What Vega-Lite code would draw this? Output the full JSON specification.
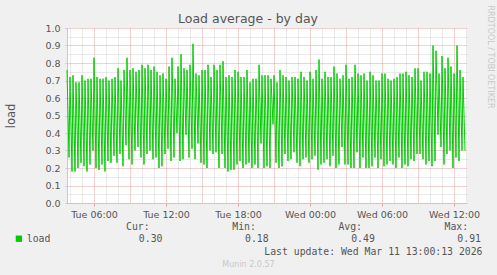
{
"$schema": "https://vega.github.io/schema/vega-lite/v6.json",
"width": 400, "height": 175,
"autosize": {"type": "none"},
"padding": {"left": 67, "top": 28, "right": 30, "bottom": 72},
"background": "#f0f0f0",
"config": {"view": {"fill": "#ffffff", "stroke": null}, "font": "DejaVu Sans"},
"title": {"text": "Load average - by day", "anchor": "middle", "frame": "group", "dx": -19, "dy": 20, "offset": 0, "fontSize": 12.5, "fontWeight": "normal", "color": "#555555", "font": "DejaVu Sans"},
"data": {"values": [
{"t":"2026-03-10T03:45Z","v":0.76},{"t":"2026-03-10T03:55Z","v":0.26},
{"t":"2026-03-10T04:00Z","v":0.72},{"t":"2026-03-10T04:10Z","v":0.18},
{"t":"2026-03-10T04:15Z","v":0.73},{"t":"2026-03-10T04:25Z","v":0.18},
{"t":"2026-03-10T04:30Z","v":0.69},{"t":"2026-03-10T04:40Z","v":0.20},
{"t":"2026-03-10T04:45Z","v":0.69},{"t":"2026-03-10T04:55Z","v":0.23},
{"t":"2026-03-10T05:00Z","v":0.73},{"t":"2026-03-10T05:10Z","v":0.21},
{"t":"2026-03-10T05:15Z","v":0.70},{"t":"2026-03-10T05:25Z","v":0.18},
{"t":"2026-03-10T05:30Z","v":0.71},{"t":"2026-03-10T05:40Z","v":0.22},
{"t":"2026-03-10T05:45Z","v":0.71},{"t":"2026-03-10T05:55Z","v":0.30},
{"t":"2026-03-10T06:00Z","v":0.83},{"t":"2026-03-10T06:10Z","v":0.20},
{"t":"2026-03-10T06:15Z","v":0.72},{"t":"2026-03-10T06:25Z","v":0.19},
{"t":"2026-03-10T06:30Z","v":0.71},{"t":"2026-03-10T06:40Z","v":0.22},
{"t":"2026-03-10T06:45Z","v":0.71},{"t":"2026-03-10T06:55Z","v":0.18},
{"t":"2026-03-10T07:00Z","v":0.72},{"t":"2026-03-10T07:10Z","v":0.24},
{"t":"2026-03-10T07:15Z","v":0.70},{"t":"2026-03-10T07:25Z","v":0.23},
{"t":"2026-03-10T07:30Z","v":0.71},{"t":"2026-03-10T07:40Z","v":0.27},
{"t":"2026-03-10T07:45Z","v":0.72},{"t":"2026-03-10T07:55Z","v":0.23},
{"t":"2026-03-10T08:00Z","v":0.77},{"t":"2026-03-10T08:10Z","v":0.28},
{"t":"2026-03-10T08:15Z","v":0.70},{"t":"2026-03-10T08:25Z","v":0.21},
{"t":"2026-03-10T08:30Z","v":0.76},{"t":"2026-03-10T08:40Z","v":0.33},
{"t":"2026-03-10T08:45Z","v":0.83},{"t":"2026-03-10T08:55Z","v":0.25},
{"t":"2026-03-10T09:00Z","v":0.76},{"t":"2026-03-10T09:10Z","v":0.22},
{"t":"2026-03-10T09:15Z","v":0.77},{"t":"2026-03-10T09:25Z","v":0.30},
{"t":"2026-03-10T09:30Z","v":0.75},{"t":"2026-03-10T09:40Z","v":0.32},
{"t":"2026-03-10T09:45Z","v":0.76},{"t":"2026-03-10T09:55Z","v":0.26},
{"t":"2026-03-10T10:00Z","v":0.79},{"t":"2026-03-10T10:10Z","v":0.22},
{"t":"2026-03-10T10:15Z","v":0.77},{"t":"2026-03-10T10:25Z","v":0.28},
{"t":"2026-03-10T10:30Z","v":0.79},{"t":"2026-03-10T10:40Z","v":0.30},
{"t":"2026-03-10T10:45Z","v":0.76},{"t":"2026-03-10T10:55Z","v":0.25},
{"t":"2026-03-10T11:00Z","v":0.78},{"t":"2026-03-10T11:10Z","v":0.26},
{"t":"2026-03-10T11:15Z","v":0.75},{"t":"2026-03-10T11:25Z","v":0.20},
{"t":"2026-03-10T11:30Z","v":0.73},{"t":"2026-03-10T11:40Z","v":0.21},
{"t":"2026-03-10T11:45Z","v":0.74},{"t":"2026-03-10T11:55Z","v":0.28},
{"t":"2026-03-10T12:00Z","v":0.71},{"t":"2026-03-10T12:10Z","v":0.31},
{"t":"2026-03-10T12:15Z","v":0.78},{"t":"2026-03-10T12:25Z","v":0.24},
{"t":"2026-03-10T12:30Z","v":0.83},{"t":"2026-03-10T12:40Z","v":0.26},
{"t":"2026-03-10T12:45Z","v":0.71},{"t":"2026-03-10T12:55Z","v":0.40},
{"t":"2026-03-10T13:00Z","v":0.78},{"t":"2026-03-10T13:10Z","v":0.24},
{"t":"2026-03-10T13:15Z","v":0.85},{"t":"2026-03-10T13:25Z","v":0.25},
{"t":"2026-03-10T13:30Z","v":0.77},{"t":"2026-03-10T13:40Z","v":0.39},
{"t":"2026-03-10T13:45Z","v":0.76},{"t":"2026-03-10T13:55Z","v":0.26},
{"t":"2026-03-10T14:00Z","v":0.79},{"t":"2026-03-10T14:10Z","v":0.31},
{"t":"2026-03-10T14:15Z","v":0.91},{"t":"2026-03-10T14:25Z","v":0.25},
{"t":"2026-03-10T14:30Z","v":0.74},{"t":"2026-03-10T14:40Z","v":0.34},
{"t":"2026-03-10T14:45Z","v":0.73},{"t":"2026-03-10T14:55Z","v":0.23},
{"t":"2026-03-10T15:00Z","v":0.76},{"t":"2026-03-10T15:10Z","v":0.22},
{"t":"2026-03-10T15:15Z","v":0.76},{"t":"2026-03-10T15:25Z","v":0.20},
{"t":"2026-03-10T15:30Z","v":0.79},{"t":"2026-03-10T15:40Z","v":0.30},
{"t":"2026-03-10T15:45Z","v":0.72},{"t":"2026-03-10T15:55Z","v":0.28},
{"t":"2026-03-10T16:00Z","v":0.79},{"t":"2026-03-10T16:10Z","v":0.29},
{"t":"2026-03-10T16:15Z","v":0.76},{"t":"2026-03-10T16:25Z","v":0.20},
{"t":"2026-03-10T16:30Z","v":0.79},{"t":"2026-03-10T16:40Z","v":0.28},
{"t":"2026-03-10T16:45Z","v":0.81},{"t":"2026-03-10T16:55Z","v":0.20},
{"t":"2026-03-10T17:00Z","v":0.72},{"t":"2026-03-10T17:10Z","v":0.18},
{"t":"2026-03-10T17:15Z","v":0.73},{"t":"2026-03-10T17:25Z","v":0.19},
{"t":"2026-03-10T17:30Z","v":0.72},{"t":"2026-03-10T17:40Z","v":0.19},
{"t":"2026-03-10T17:45Z","v":0.76},{"t":"2026-03-10T17:55Z","v":0.22},
{"t":"2026-03-10T18:00Z","v":0.75},{"t":"2026-03-10T18:10Z","v":0.24},
{"t":"2026-03-10T18:15Z","v":0.72},{"t":"2026-03-10T18:25Z","v":0.20},
{"t":"2026-03-10T18:30Z","v":0.72},{"t":"2026-03-10T18:40Z","v":0.22},
{"t":"2026-03-10T18:45Z","v":0.76},{"t":"2026-03-10T18:55Z","v":0.23},
{"t":"2026-03-10T19:00Z","v":0.69},{"t":"2026-03-10T19:10Z","v":0.20},
{"t":"2026-03-10T19:15Z","v":0.71},{"t":"2026-03-10T19:25Z","v":0.22},
{"t":"2026-03-10T19:30Z","v":0.71},{"t":"2026-03-10T19:40Z","v":0.20},
{"t":"2026-03-10T19:45Z","v":0.79},{"t":"2026-03-10T19:55Z","v":0.34},
{"t":"2026-03-10T20:00Z","v":0.73},{"t":"2026-03-10T20:10Z","v":0.20},
{"t":"2026-03-10T20:15Z","v":0.73},{"t":"2026-03-10T20:25Z","v":0.21},
{"t":"2026-03-10T20:30Z","v":0.73},{"t":"2026-03-10T20:40Z","v":0.20},
{"t":"2026-03-10T20:45Z","v":0.71},{"t":"2026-03-10T20:55Z","v":0.45},
{"t":"2026-03-10T21:00Z","v":0.73},{"t":"2026-03-10T21:10Z","v":0.23},
{"t":"2026-03-10T21:15Z","v":0.69},{"t":"2026-03-10T21:25Z","v":0.20},
{"t":"2026-03-10T21:30Z","v":0.76},{"t":"2026-03-10T21:40Z","v":0.21},
{"t":"2026-03-10T21:45Z","v":0.73},{"t":"2026-03-10T21:55Z","v":0.28},
{"t":"2026-03-10T22:00Z","v":0.72},{"t":"2026-03-10T22:10Z","v":0.24},
{"t":"2026-03-10T22:15Z","v":0.70},{"t":"2026-03-10T22:25Z","v":0.25},
{"t":"2026-03-10T22:30Z","v":0.72},{"t":"2026-03-10T22:40Z","v":0.29},
{"t":"2026-03-10T22:45Z","v":0.72},{"t":"2026-03-10T22:55Z","v":0.23},
{"t":"2026-03-10T23:00Z","v":0.71},{"t":"2026-03-10T23:10Z","v":0.21},
{"t":"2026-03-10T23:15Z","v":0.75},{"t":"2026-03-10T23:25Z","v":0.25},
{"t":"2026-03-10T23:30Z","v":0.72},{"t":"2026-03-10T23:40Z","v":0.26},
{"t":"2026-03-10T23:45Z","v":0.70},{"t":"2026-03-10T23:55Z","v":0.23},
{"t":"2026-03-11T00:00Z","v":0.75},{"t":"2026-03-11T00:10Z","v":0.25},
{"t":"2026-03-11T00:15Z","v":0.71},{"t":"2026-03-11T00:25Z","v":0.27},
{"t":"2026-03-11T00:30Z","v":0.76},{"t":"2026-03-11T00:40Z","v":0.19},
{"t":"2026-03-11T00:45Z","v":0.82},{"t":"2026-03-11T00:55Z","v":0.22},
{"t":"2026-03-11T01:00Z","v":0.71},{"t":"2026-03-11T01:10Z","v":0.23},
{"t":"2026-03-11T01:15Z","v":0.75},{"t":"2026-03-11T01:25Z","v":0.25},
{"t":"2026-03-11T01:30Z","v":0.72},{"t":"2026-03-11T01:40Z","v":0.21},
{"t":"2026-03-11T01:45Z","v":0.72},{"t":"2026-03-11T01:55Z","v":0.27},
{"t":"2026-03-11T02:00Z","v":0.78},{"t":"2026-03-11T02:10Z","v":0.20},
{"t":"2026-03-11T02:15Z","v":0.74},{"t":"2026-03-11T02:25Z","v":0.22},
{"t":"2026-03-11T02:30Z","v":0.71},{"t":"2026-03-11T02:40Z","v":0.32},
{"t":"2026-03-11T02:45Z","v":0.73},{"t":"2026-03-11T02:55Z","v":0.22},
{"t":"2026-03-11T03:00Z","v":0.79},{"t":"2026-03-11T03:10Z","v":0.22},
{"t":"2026-03-11T03:15Z","v":0.71},{"t":"2026-03-11T03:25Z","v":0.20},
{"t":"2026-03-11T03:30Z","v":0.72},{"t":"2026-03-11T03:40Z","v":0.20},
{"t":"2026-03-11T03:45Z","v":0.79},{"t":"2026-03-11T03:55Z","v":0.29},
{"t":"2026-03-11T04:00Z","v":0.74},{"t":"2026-03-11T04:10Z","v":0.20},
{"t":"2026-03-11T04:15Z","v":0.73},{"t":"2026-03-11T04:25Z","v":0.26},
{"t":"2026-03-11T04:30Z","v":0.74},{"t":"2026-03-11T04:40Z","v":0.20},
{"t":"2026-03-11T04:45Z","v":0.70},{"t":"2026-03-11T04:55Z","v":0.20},
{"t":"2026-03-11T05:00Z","v":0.75},{"t":"2026-03-11T05:10Z","v":0.21},
{"t":"2026-03-11T05:15Z","v":0.73},{"t":"2026-03-11T05:25Z","v":0.26},
{"t":"2026-03-11T05:30Z","v":0.70},{"t":"2026-03-11T05:40Z","v":0.20},
{"t":"2026-03-11T05:45Z","v":0.70},{"t":"2026-03-11T05:55Z","v":0.25},
{"t":"2026-03-11T06:00Z","v":0.74},{"t":"2026-03-11T06:10Z","v":0.21},
{"t":"2026-03-11T06:15Z","v":0.74},{"t":"2026-03-11T06:25Z","v":0.22},
{"t":"2026-03-11T06:30Z","v":0.71},{"t":"2026-03-11T06:40Z","v":0.24},
{"t":"2026-03-11T06:45Z","v":0.70},{"t":"2026-03-11T06:55Z","v":0.22},
{"t":"2026-03-11T07:00Z","v":0.71},{"t":"2026-03-11T07:10Z","v":0.20},
{"t":"2026-03-11T07:15Z","v":0.72},{"t":"2026-03-11T07:25Z","v":0.26},
{"t":"2026-03-11T07:30Z","v":0.74},{"t":"2026-03-11T07:40Z","v":0.20},
{"t":"2026-03-11T07:45Z","v":0.74},{"t":"2026-03-11T07:55Z","v":0.22},
{"t":"2026-03-11T08:00Z","v":0.75},{"t":"2026-03-11T08:10Z","v":0.21},
{"t":"2026-03-11T08:15Z","v":0.73},{"t":"2026-03-11T08:25Z","v":0.25},
{"t":"2026-03-11T08:30Z","v":0.72},{"t":"2026-03-11T08:40Z","v":0.24},
{"t":"2026-03-11T08:45Z","v":0.77},{"t":"2026-03-11T08:55Z","v":0.28},
{"t":"2026-03-11T09:00Z","v":0.77},{"t":"2026-03-11T09:10Z","v":0.28},
{"t":"2026-03-11T09:15Z","v":0.70},{"t":"2026-03-11T09:25Z","v":0.25},
{"t":"2026-03-11T09:30Z","v":0.75},{"t":"2026-03-11T09:40Z","v":0.22},
{"t":"2026-03-11T09:45Z","v":0.75},{"t":"2026-03-11T09:55Z","v":0.24},
{"t":"2026-03-11T10:00Z","v":0.74},{"t":"2026-03-11T10:10Z","v":0.21},
{"t":"2026-03-11T10:15Z","v":0.90},{"t":"2026-03-11T10:25Z","v":0.24},
{"t":"2026-03-11T10:30Z","v":0.87},{"t":"2026-03-11T10:40Z","v":0.39},
{"t":"2026-03-11T10:45Z","v":0.74},{"t":"2026-03-11T10:55Z","v":0.32},
{"t":"2026-03-11T11:00Z","v":0.84},{"t":"2026-03-11T11:10Z","v":0.22},
{"t":"2026-03-11T11:15Z","v":0.77},{"t":"2026-03-11T11:25Z","v":0.28},
{"t":"2026-03-11T11:30Z","v":0.83},{"t":"2026-03-11T11:40Z","v":0.30},
{"t":"2026-03-11T11:45Z","v":0.78},{"t":"2026-03-11T11:55Z","v":0.20},
{"t":"2026-03-11T12:00Z","v":0.74},{"t":"2026-03-11T12:10Z","v":0.26},
{"t":"2026-03-11T12:15Z","v":0.90},{"t":"2026-03-11T12:25Z","v":0.24},
{"t":"2026-03-11T12:30Z","v":0.76},{"t":"2026-03-11T12:40Z","v":0.30},
{"t":"2026-03-11T12:45Z","v":0.72},{"t":"2026-03-11T12:55Z","v":0.30}
]},
"layer": [
{
"mark": {"type": "line", "opacity": 0},
"encoding": {
"x": {"field": "t", "type": "temporal",
 "scale": {"type": "utc", "domain": [{"year": 2026, "month": 3, "date": 10, "hours": 3, "minutes": 45, "utc": true}, {"year": 2026, "month": 3, "date": 11, "hours": 13, "minutes": 5, "utc": true}]},
 "axis": {"orient": "bottom", "labels": false, "ticks": false, "domain": false, "grid": true, "gridColor": "#d4d4d4", "gridDash": [1, 1],
  "values": [
   {"year": 2026, "month": 3, "date": 10, "hours": 4, "utc": true}, {"year": 2026, "month": 3, "date": 10, "hours": 5, "utc": true},
   {"year": 2026, "month": 3, "date": 10, "hours": 7, "utc": true}, {"year": 2026, "month": 3, "date": 10, "hours": 8, "utc": true},
   {"year": 2026, "month": 3, "date": 10, "hours": 10, "utc": true}, {"year": 2026, "month": 3, "date": 10, "hours": 11, "utc": true},
   {"year": 2026, "month": 3, "date": 10, "hours": 13, "utc": true}, {"year": 2026, "month": 3, "date": 10, "hours": 14, "utc": true},
   {"year": 2026, "month": 3, "date": 10, "hours": 16, "utc": true}, {"year": 2026, "month": 3, "date": 10, "hours": 17, "utc": true},
   {"year": 2026, "month": 3, "date": 10, "hours": 19, "utc": true}, {"year": 2026, "month": 3, "date": 10, "hours": 20, "utc": true},
   {"year": 2026, "month": 3, "date": 10, "hours": 22, "utc": true}, {"year": 2026, "month": 3, "date": 10, "hours": 23, "utc": true},
   {"year": 2026, "month": 3, "date": 11, "hours": 1, "utc": true}, {"year": 2026, "month": 3, "date": 11, "hours": 2, "utc": true},
   {"year": 2026, "month": 3, "date": 11, "hours": 4, "utc": true}, {"year": 2026, "month": 3, "date": 11, "hours": 5, "utc": true},
   {"year": 2026, "month": 3, "date": 11, "hours": 7, "utc": true}, {"year": 2026, "month": 3, "date": 11, "hours": 8, "utc": true},
   {"year": 2026, "month": 3, "date": 11, "hours": 10, "utc": true}, {"year": 2026, "month": 3, "date": 11, "hours": 11, "utc": true},
   {"year": 2026, "month": 3, "date": 11, "hours": 13, "utc": true}],
  "title": "Munin 2.0.57", "titleFont": "DejaVu Sans", "titleFontSize": 8, "titleFontWeight": "normal", "titleColor": "#c8c8c8",
  "titleAlign": "center", "titleBaseline": "middle", "titleX": 181, "titleY": 61}},
"y": {"field": "v", "type": "quantitative", "scale": {"domain": [0, 1], "nice": false},
 "axis": {"orient": "right", "labels": false, "ticks": false, "domain": false, "grid": true, "gridColor": "#d4d4d4", "gridDash": [1, 1],
  "values": [0.05, 0.15, 0.25, 0.35, 0.45, 0.55, 0.65, 0.75, 0.85, 0.95],
  "title": "RRDTOOL / TOBI OETIKER", "titleFont": "DejaVu Sans", "titleFontSize": 8, "titleFontWeight": "normal", "titleColor": "#c8c8c8",
  "titleAngle": 90, "titleAlign": "left", "titleBaseline": "middle", "titleX": 22, "titleY": -23}}
}
},
{
"mark": {"type": "line", "opacity": 0},
"encoding": {
"x": {"field": "t", "type": "temporal",
 "axis": {"orient": "bottom", "labels": false, "ticks": false, "domain": false, "grid": true, "gridColor": "#e3a0a0", "gridDash": [1, 1], "title": null,
  "values": [
   {"year": 2026, "month": 3, "date": 10, "hours": 9, "utc": true}, {"year": 2026, "month": 3, "date": 10, "hours": 15, "utc": true},
   {"year": 2026, "month": 3, "date": 10, "hours": 21, "utc": true}, {"year": 2026, "month": 3, "date": 11, "hours": 3, "utc": true},
   {"year": 2026, "month": 3, "date": 11, "hours": 9, "utc": true}]}},
"y": {"field": "v", "type": "quantitative", "axis": null}
}
},
{
"mark": {"type": "line", "strokeWidth": 1},
"encoding": {
"x": {"field": "t", "type": "temporal",
 "axis": {"orient": "bottom", "format": "%a %H:%M", "labelFont": "DejaVu Sans", "labelFontSize": 9.5, "labelColor": "#555555", "labelPadding": 3,
  "values": [
   {"year": 2026, "month": 3, "date": 10, "hours": 6, "utc": true}, {"year": 2026, "month": 3, "date": 10, "hours": 12, "utc": true},
   {"year": 2026, "month": 3, "date": 10, "hours": 18, "utc": true}, {"year": 2026, "month": 3, "date": 11, "hours": 0, "utc": true},
   {"year": 2026, "month": 3, "date": 11, "hours": 6, "utc": true}, {"year": 2026, "month": 3, "date": 11, "hours": 12, "utc": true}],
  "tickSize": 3, "tickColor": "#e3a0a0", "domainColor": "#c4c4f0", "grid": true, "gridColor": "#e3a0a0", "gridDash": [1, 1],
  "title": "Last update: Wed Mar 11 13:00:13 2026", "titleFont": "DejaVu Sans Mono", "titleFontSize": 9.8, "titleFontWeight": "normal", "titleColor": "#555555",
  "titleAlign": "right", "titleBaseline": "middle", "titleX": 415, "titleY": 48}},
"y": {"field": "v", "type": "quantitative",
 "axis": {"values": [0, 0.1, 0.2, 0.3, 0.4, 0.5, 0.6, 0.7, 0.8, 0.9, 1.0], "format": ".1f", "labelFont": "DejaVu Sans", "labelFontSize": 9.5, "labelColor": "#555555", "labelPadding": 5,
  "tickSize": 2, "tickColor": "#c4c4f0", "domainColor": "#c4c4f0", "grid": true, "gridColor": "#e3a0a0", "gridDash": [1, 1],
  "title": "load", "titleFont": "DejaVu Sans", "titleFontSize": 11.5, "titleFontWeight": "normal", "titleColor": "#555555",
  "titleAlign": "center", "titleBaseline": "middle", "titleX": -56, "titleY": 87.5}},
"color": {"datum": "load", "scale": {"range": ["#00cc00"]},
 "legend": {"orient": "none", "legendX": -53, "legendY": 194, "padding": 0,
  "title": "\u200b\u00a0\u00a0\u00a0\u00a0\u00a0\u00a0\u00a0\u00a0\u00a0\u00a0\u00a0\u00a0\u00a0\u00a0\u00a0\u00a0\u00a0\u00a0\u00a0Cur:\u00a0\u00a0\u00a0\u00a0\u00a0\u00a0\u00a0\u00a0\u00a0\u00a0\u00a0\u00a0\u00a0\u00a0Min:\u00a0\u00a0\u00a0\u00a0\u00a0\u00a0\u00a0\u00a0\u00a0\u00a0\u00a0\u00a0\u00a0\u00a0Avg:\u00a0\u00a0\u00a0\u00a0\u00a0\u00a0\u00a0\u00a0\u00a0\u00a0\u00a0\u00a0\u00a0\u00a0Max:",
  "titleFont": "DejaVu Sans Mono", "titleFontSize": 9.8, "titleFontWeight": "normal", "titleColor": "#555555", "titleLimit": 600, "titlePadding": 2,
  "labelExpr": "datum.label + '\u00a0\u00a0\u00a0\u00a0\u00a0\u00a0\u00a0\u00a0\u00a0\u00a0\u00a0\u00a0\u00a0\u00a0\u00a00.30\u00a0\u00a0\u00a0\u00a0\u00a0\u00a0\u00a0\u00a0\u00a0\u00a0\u00a0\u00a0\u00a0\u00a00.18\u00a0\u00a0\u00a0\u00a0\u00a0\u00a0\u00a0\u00a0\u00a0\u00a0\u00a0\u00a0\u00a0\u00a00.49\u00a0\u00a0\u00a0\u00a0\u00a0\u00a0\u00a0\u00a0\u00a0\u00a0\u00a0\u00a0\u00a0\u00a00.91'",
  "labelFont": "DejaVu Sans Mono", "labelFontSize": 9.8, "labelColor": "#555555", "labelLimit": 600, "labelOffset": 3,
  "symbolType": "square", "symbolSize": 40, "symbolStrokeWidth": 0, "symbolFillColor": "#00cc00", "symbolStrokeColor": "#00cc00"}}
}
}
],
"resolve": {"axis": {"x": "independent", "y": "independent"}}
}
